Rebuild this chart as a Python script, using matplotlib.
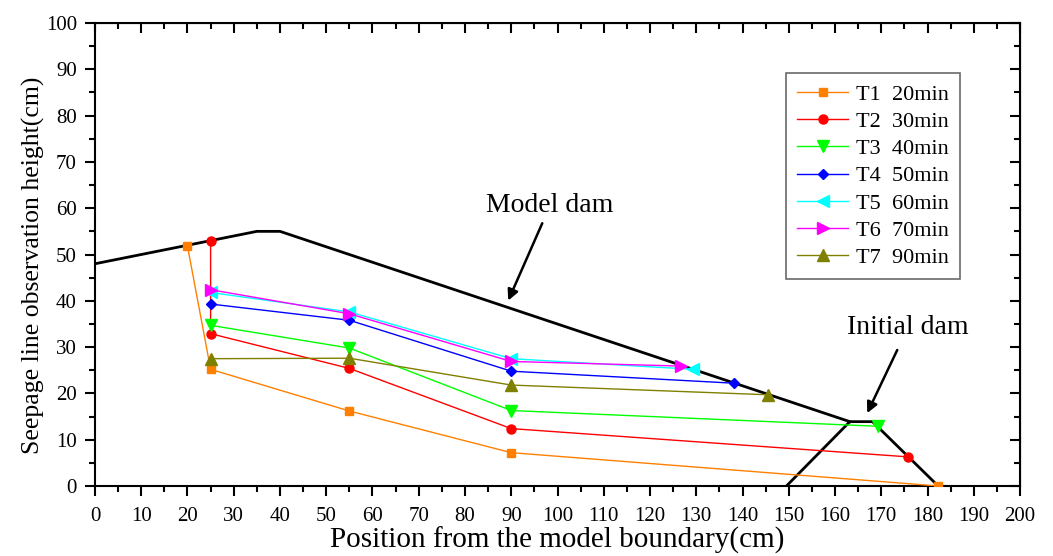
import numpy as np
import matplotlib.pyplot as plt

plt.rcParams['font.family'] = ['Liberation Serif', 'DejaVu Serif']

# Seepage line data (x: position in cm, y: height in cm)
t1_x = [20, 25, 55, 90, 182.3]
t1_y = [51.8, 25.2, 16.2, 7.2, 0]
t2_x = [25, 25, 55, 90, 175.7]
t2_y = [52.9, 32.9, 25.4, 12.4, 6.3]
t3_x = [25, 55, 90, 169.2]
t3_y = [34.7, 29.8, 16.3, 12.9]
t4_x = [25, 55, 90, 138.2]
t4_y = [39.3, 35.8, 24.8, 22.2]
t5_x = [25, 55, 90, 129.4]
t5_y = [41.8, 37.6, 27.5, 25.2]
t6_x = [25, 55, 90, 126.8]
t6_y = [42.4, 37.2, 26.9, 25.9]
t7_x = [25, 55, 90, 145.6]
t7_y = [27.5, 27.6, 21.8, 19.7]

labels = ['T1  20min', 'T2  30min', 'T3  40min', 'T4  50min',
          'T5  60min', 'T6  70min', 'T7  90min']

# dam outlines
model_dam_x = [0, 35, 40, 163.2]
model_dam_y = [48, 55, 55, 13.9]
initial_dam_x = [149.5, 163.2, 168.1, 182.3]
initial_dam_y = [0, 13.9, 13.9, 0]

fig = plt.figure(figsize=(10.53, 5.56), dpi=100)
ax = fig.add_axes([0.0902, 0.1259, 0.8785, 0.8327])

ax.plot(model_dam_x, model_dam_y, color='black', lw=2, zorder=1)
ax.plot(initial_dam_x, initial_dam_y, color='black', lw=2, zorder=1)

series = [
    (t1_x, t1_y, '#FF8000', 's', 6),
    (t2_x, t2_y, '#FF0000', 'o', 6.5),
    (t3_x, t3_y, '#00FF00', 'v', 8),
    (t4_x, t4_y, '#0000FF', 'D', 5.5),
    (t5_x, t5_y, '#00FFFF', '<', 8),
    (t6_x, t6_y, '#FF00FF', '>', 8),
    (t7_x, t7_y, '#808000', '^', 8),
]
for (xs, ys, c, m, ms), lab in zip(series, labels):
    ax.plot(xs, ys, color=c, lw=1, marker=m, ms=ms, mec=c, mfc=c,
            label=lab, zorder=3)

ax.annotate('Model dam', xy=(89.1, 39.5), xytext=(98.4, 57.9),
            fontsize=20, ha='center', va='bottom',
            arrowprops=dict(arrowstyle='-|>', color='black', lw=1.8,
                            mutation_scale=16))
ax.annotate('Initial dam', xy=(166.7, 15.2), xytext=(175.8, 31.6),
            fontsize=20, ha='center', va='bottom',
            arrowprops=dict(arrowstyle='-|>', color='black', lw=1.8,
                            mutation_scale=16, shrinkA=6))

ax.set_xlim(0, 200)
ax.set_ylim(0, 100)
ax.set_xticks(np.arange(0, 201, 10))
ax.set_yticks(np.arange(0, 101, 10))
ax.set_xticks(np.arange(5, 200, 10), minor=True)
ax.set_yticks(np.arange(5, 100, 10), minor=True)
ax.tick_params(which='major', direction='out', length=7, width=1.5,
               labelsize=15)
ax.tick_params(axis='x', which='major', pad=8)
ax.tick_params(axis='y', which='major', pad=6)
ax.tick_params(which='minor', direction='out', length=4, width=1.5)
for s in ax.spines.values():
    s.set_linewidth(1.5)

# mirrored inward ticks on top and right
top = ax.secondary_xaxis('top')
top.set_xticks(np.arange(0, 201, 10))
top.set_xticks(np.arange(5, 200, 10), minor=True)
top.tick_params(which='major', direction='in', length=7, width=1.5,
                labeltop=False)
top.tick_params(which='minor', direction='in', length=4, width=1.5)
right = ax.secondary_yaxis('right')
right.set_yticks(np.arange(0, 101, 10))
right.set_yticks(np.arange(5, 100, 10), minor=True)
right.tick_params(which='major', direction='in', length=7, width=1.5,
                  labelright=False)
right.tick_params(which='minor', direction='in', length=4, width=1.5)

ax.set_xlabel('Position from the model boundary(cm)', fontsize=21, va='baseline')
ax.xaxis.set_label_coords(0.5, -0.133)
ax.set_ylabel('Seepage line observation height(cm)', fontsize=18.5,
              va='baseline')
ax.yaxis.set_label_coords(-0.0595, 0.477)

leg = ax.legend(loc='upper left', bbox_to_anchor=(0.747, 0.892),
                borderaxespad=0, fontsize=16,
                frameon=True, fancybox=False, edgecolor='#444444',
                handlelength=2.3, labelspacing=0.3, borderpad=0.5,
                handletextpad=0.35)
leg.get_frame().set_linewidth(1.2)

fig.savefig('out.png', dpi=100)
